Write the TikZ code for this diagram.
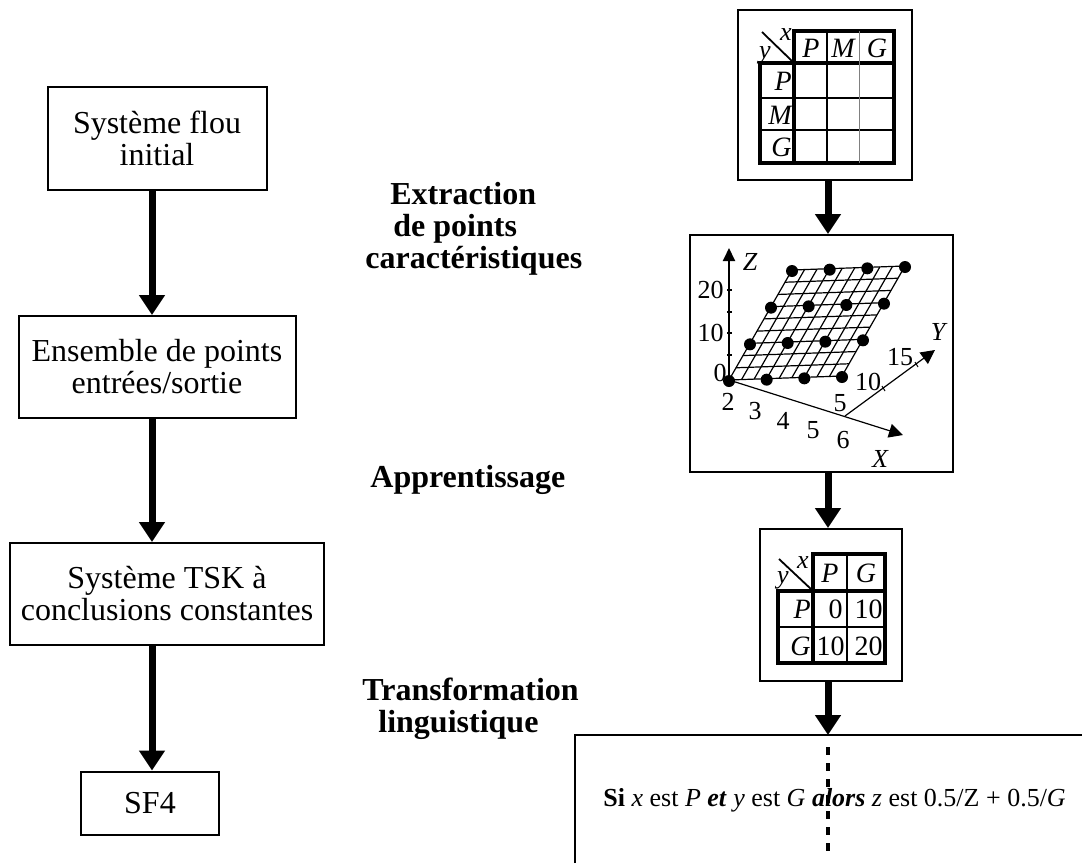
\documentclass[tikz,border=0pt]{standalone}
\usepackage{fontspec}
\setmainfont{Liberation Serif}
\usetikzlibrary{arrows.meta,positioning,calc}

\begin{document}
\begin{tikzpicture}[x=.5pt,y=-.5pt,
  box/.style={draw,line width=1pt,inner sep=0,align=center,font=\fontsize{16pt}{16pt}\selectfont},
  lab/.style={anchor=west,inner sep=0,align=left,font=\fontsize{16pt}{16pt}\selectfont\bfseries},
  flow/.style={line width=3.5pt,-{Triangle[length=10pt,width=12.5pt]}},
  frame/.style={draw,line width=1pt,inner sep=0},
  cell/.style={inner sep=0,font=\fontsize{14pt}{14pt}\selectfont},
  ax/.style={inner sep=0,font=\fontsize{13pt}{13pt}\selectfont},
  var/.style={inner sep=0,font=\fontsize{13pt}{13pt}\selectfont\itshape},
  thk/.style={line width=1.6pt},
  thn/.style={line width=.9pt}]
\useasboundingbox (0,0) rectangle (1082,863);
\coordinate (lspine) at (152,0);
\coordinate (rspine) at (828,0);
% left chain
\node[box,minimum width=109.5pt,minimum height=51.5pt] (init) at (157,138) {Système flou\\initial};
\node[box,minimum width=138.5pt,minimum height=51pt] (pts) at (157,367) {Ensemble de points\\ entrées/sortie};
\node[box,minimum width=157pt,minimum height=51pt] (tsk) at (167,594) {Système TSK à\\conclusions constantes};
\node[box,minimum width=69pt,minimum height=31.5pt] (sf) at (150,803) {SF4};
\draw[flow] (init.south -| lspine) -- (pts.north -| lspine);
\draw[flow] (pts.south -| lspine) -- (tsk.north -| lspine);
\draw[flow] (tsk.south -| lspine) -- (sf.north -| lspine);
% step labels
\node[lab] (extr) at (365,229) {\hspace*{12.5pt}Extraction\\\hspace*{14pt}de points\\caractéristiques};
\node[lab] (appr) at (370,480) {Apprentissage};
\node[lab] (ling) at (362,709) {Transformation\\\hspace*{8pt}linguistique};
% right chain
\node[frame,minimum width=87pt,minimum height=85pt] (tabA) at (825,95) {};
\node[frame,minimum width=131.5pt,minimum height=118.5pt] (surf) at (821.5,353.5) {};
\node[frame,minimum width=71pt,minimum height=76pt] (tabB) at (831,605) {};
\coordinate (rtop) at (828,735);
\draw[line width=1pt] (575,863) -- (575,735) -- (1082,735);
\draw[flow] (tabA.south -| rspine) -- (surf.north -| rspine);
\draw[flow] (surf.south -| rspine) -- (tabB.north -| rspine);
\draw[flow] (tabB.south -| rspine) -- (rtop);
% table P M G
\draw[thk] (794,63) -- (794,31) -- (894,31) -- (894,163) -- (760,163) -- (760,63) -- (894,63);
\draw[thk] (794,63) -- (794,163);
\draw[thn] (760,98) -- (894,98) (760,130) -- (894,130) (827,31) -- (827,163);
\draw[gray,line width=.4pt] (859,31) -- (859,163);
\draw[thn] (762,32) -- (793,62);
\node[var] (ax1) at (786,35) {x};
\node[var] (ay1) at (765,55) {y};
\foreach \t/\x in {P/811,M/843,G/877} \node[cell] (h\t) at (\x,48) {\itshape\t};
\foreach \t/\y in {P/81,M/115,G/147} \node[cell,anchor=east] (r\t) at (792,\y) {\itshape\t};
% surface
\foreach \i in {0,...,9} \draw[line width=.6pt] ({729+\i*113/9},{380-\i*4/9}) -- ++(63,-110);
\foreach \j in {0,...,9} \draw[line width=.6pt] ({729+\j*63/9},{380-\j*110/9}) -- ++(113,-4);
\foreach \i in {0,...,3} \foreach \j in {0,...,3}
  \fill ({729+\i*113/3+\j*63/3},{381-\i*4/3-\j*110/3}) circle (3pt);
\draw[line width=1pt,-{Triangle[length=6.5pt,width=6pt]}] (729,380) -- (729,248);
\foreach \y in {290,312,333,355} \draw[line width=1pt] (727,\y) -- (732,\y);
\draw[line width=.6pt,-{Triangle[length=7pt,width=7pt]}] (729,380) -- (903,435);
\draw[line width=.6pt,-{Triangle[length=7pt,width=7pt]}] (845,416) -- (935,350);
\draw[line width=.5pt] (882,386) -- (885,391) (915,362) -- (918,367);
\node[var] (zl) at (750,262) {Z};
\node[ax,anchor=east] (z20) at (724,290) {20};
\node[ax,anchor=east] (z10) at (724,333) {10};
\node[ax,anchor=east] (z0) at (727,373) {0};
\foreach \t/\x/\y in {2/728/402,3/755/411,4/783/421,5/813/430,6/843/440}
  \node[ax] (xt\t) at (\x,\y) {\t};
\node[var] (xl) at (880,459) {X};
\foreach \t/\x/\y in {5/840/403,10/868/382,15/900/357}
  \node[ax] (yt\t) at (\x,\y) {\t};
\node[var] (yl) at (938,332) {Y};
% table P G
\draw[thk] (813,591) -- (813,554) -- (885,554) -- (885,663) -- (778,663) -- (778,591) -- (885,591);
\draw[thk] (813,591) -- (813,663);
\draw[thn] (778,627) -- (885,627) (847,554) -- (847,663);
\draw[thn] (779,559) -- (812,590);
\node[var] (ax2) at (803,563) {x};
\node[var] (ay2) at (783,580) {y};
\node[cell] (hP2) at (830,573) {\itshape P};
\node[cell] (hG2) at (866,573) {\itshape G};
\node[cell,anchor=east] (rP2) at (811,609) {\itshape P};
\node[cell,anchor=east] (rG2) at (811,646) {\itshape G};
\node[cell,anchor=east] (vPP) at (843,609) {0};
\node[cell,anchor=east] (vPG) at (883,609) {10};
\node[cell,anchor=east] (vGP) at (845,646) {10};
\node[cell,anchor=east] (vGG) at (883,646) {20};
% rule
\node[inner sep=0,anchor=west,font=\fontsize{13pt}{13pt}\selectfont] (rule) at (603,800)
  {\textbf{Si} \textit{x} est \textit{P} \textbf{\textit{et}} \textit{y} est \textit{G} \textbf{\textit{alors}} \textit{z} est 0.5/Z + 0.5/\textit{G}};
\draw[line width=1.6pt,dash pattern=on 4pt off 4pt] (828,747) -- (828,855);
\end{tikzpicture}
\end{document}
